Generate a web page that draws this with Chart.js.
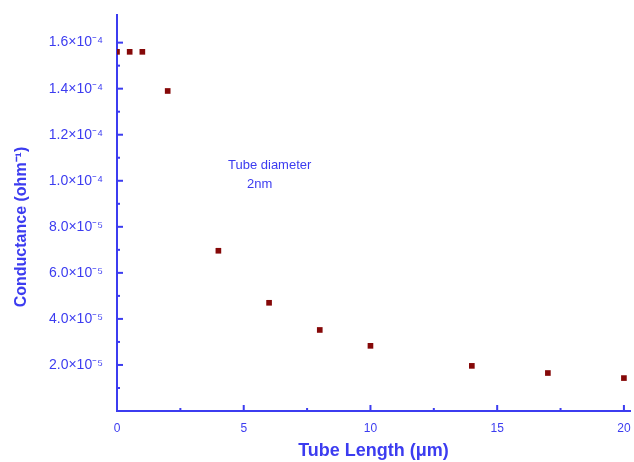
<!DOCTYPE html>
<html>
<head>
<meta charset="utf-8">
<script src="https://cdn.jsdelivr.net/npm/chart.js@4/dist/chart.umd.min.js"></script>
<style>
  html, body { margin: 0; padding: 0; background: #fff; }
  #wrap { width: 634px; height: 462px; }
</style>
</head>
<body>
<div id="wrap"><canvas id="grafico"></canvas></div>
<script>
// tube length (um) and conductance (ohm^-1)
const longitudes = [0, 0.5, 1, 2, 4, 6, 8, 10, 14, 17, 20];
const conductancia = [1.56e-4, 1.56e-4, 1.56e-4, 1.39e-4, 6.96e-5, 4.70e-5, 3.52e-5, 2.83e-5, 1.96e-5, 1.65e-5, 1.43e-5];
const ticksX = [0, 5, 10, 15, 20];
const ticksY = ['2.0×10⁻⁵', '4.0×10⁻⁵', '6.0×10⁻⁵', '8.0×10⁻⁵', '1.0×10⁻⁴', '1.2×10⁻⁴', '1.4×10⁻⁴', '1.6×10⁻⁴'];

const azul = '#3c3cf0';
const fuente = '"Liberation Sans", Arial, sans-serif';

// tick marks pointing inward + y title + note
const marcas = {
    id: 'marcas',
    afterDraw(chart) {
        const ctx = chart.ctx;
        const x = chart.scales.x, y = chart.scales.y;
        ctx.save();
        ctx.strokeStyle = azul;
        ctx.lineWidth = 2;
        x.ticks.forEach(t => {
            if (t.value === 0) return;
            const px = x.getPixelForValue(t.value);
            const largo = (t.value % 5 === 0) ? 6 : 3;
            ctx.beginPath();
            ctx.moveTo(px, x.top);
            ctx.lineTo(px, x.top - largo);
            ctx.stroke();
        });
        y.ticks.forEach(t => {
            const n = t.value / 1e-5;
            if (Math.abs(n - Math.round(n)) > 1e-6 || Math.round(n) === 0) return;
            const py = y.getPixelForValue(t.value);
            const largo = (Math.round(n) % 2 === 0) ? 6 : 3;
            ctx.beginPath();
            ctx.moveTo(y.right, py);
            ctx.lineTo(y.right + largo, py);
            ctx.stroke();
        });

        ctx.fillStyle = azul;
        ctx.font = 'bold 16px ' + fuente;
        ctx.textAlign = 'center';
        ctx.textBaseline = 'middle';
        ctx.translate(22, 227);
        ctx.rotate(-Math.PI / 2);
        ctx.fillText('Conductance (ohm⁻¹)', 0, 0);
        ctx.restore();

        ctx.save();
        ctx.fillStyle = azul;
        ctx.font = '13px ' + fuente;
        ctx.textBaseline = 'middle';
        ctx.fillText('Tube diameter', 228, 165);
        ctx.fillText('2nm', 247, 184);
        ctx.restore();
    }
};

new Chart(document.getElementById('grafico'), {
    type: 'scatter',
    data: {
        datasets: [{
            label: 'Conductance',
            data: longitudes.map((l, i) => ({x: l, y: conductancia[i]})),
            pointStyle: 'rect',
            pointRadius: 4,
            pointHoverRadius: 4,
            backgroundColor: '#850808',
            borderColor: '#850808',
            borderWidth: 0
        }]
    },
    options: {
        responsive: true,
        maintainAspectRatio: false,
        animation: false,
        layout: { padding: { top: 15, right: 4, left: 0, bottom: 0 } },
        plugins: {
            legend: { display: false },
            tooltip: { enabled: false }
        },
        scales: {
            x: {
                type: 'linear',
                min: 0,
                max: 20.24,
                afterFit: s => { s.height = 51; s.paddingLeft = 0; s.paddingRight = 0; },
                afterBuildTicks: s => {
                    const lista = [];
                    for (let v = 0; v <= 20; v += 2.5) lista.push({value: v});
                    s.ticks = lista;
                },
                grid: { display: false, drawTicks: false },
                border: { color: azul, width: 2 },
                ticks: {
                    autoSkip: false,
                    maxRotation: 0,
                    padding: 10,
                    color: azul,
                    font: { family: fuente, size: 12 },
                    callback: v => ticksX.includes(v) ? String(v) : ''
                },
                title: {
                    display: true,
                    text: 'Tube Length (μm)',
                    color: azul,
                    font: { family: fuente, size: 18, weight: 'bold' },
                    padding: { top: 0, bottom: 0 }
                }
            },
            y: {
                min: 0,
                max: 1.72e-4,
                afterFit: s => { s.width = 117; s.paddingTop = 0; s.paddingBottom = 0; },
                grid: { display: false, drawTicks: false },
                border: { color: azul, width: 2 },
                ticks: {
                    stepSize: 1e-5,
                    autoSkip: false,
                    padding: 14,
                    color: azul,
                    font: { family: fuente, size: 14 },
                    callback: v => {
                        const n = Math.round(v / 1e-5);
                        if (Math.abs(v / 1e-5 - n) > 1e-6 || n === 0 || n % 2 !== 0) return '';
                        return ticksY[n / 2 - 1] || '';
                    }
                }
            }
        }
    },
    plugins: [marcas]
});
</script>
</body>
</html>
